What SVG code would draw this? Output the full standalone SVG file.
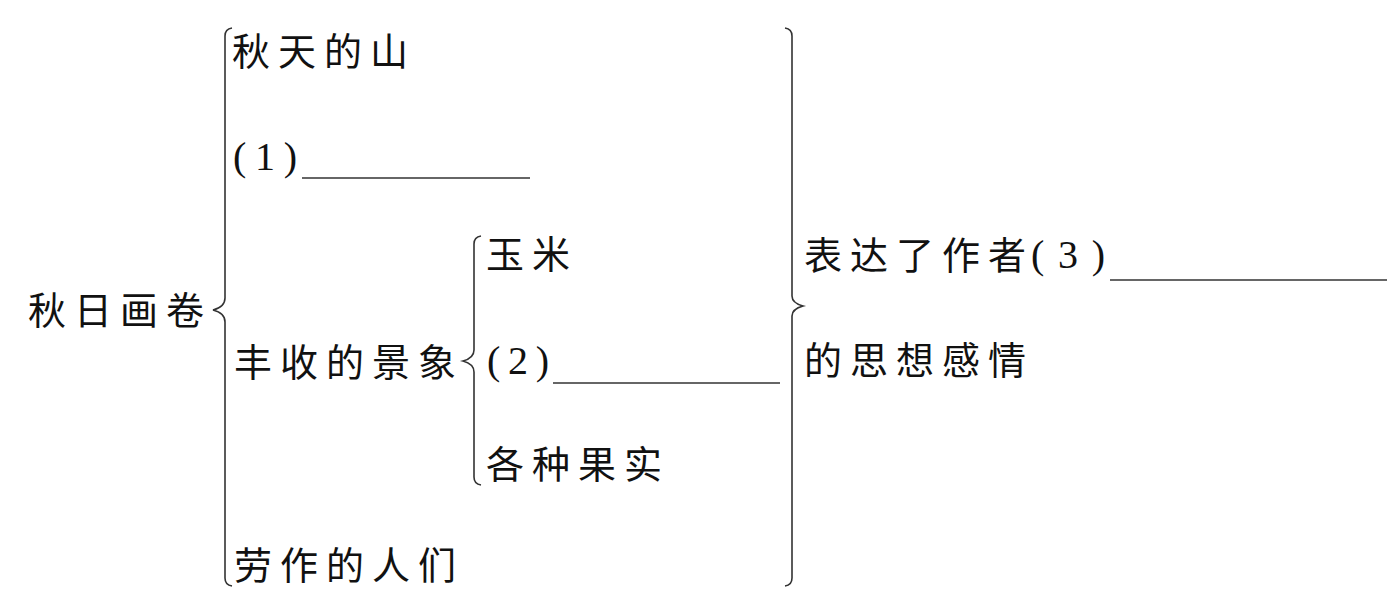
<svg xmlns="http://www.w3.org/2000/svg" width="1393" height="607" viewBox="0 0 1393 607">
<style>
.t{font-family:"Noto Sans CJK SC","Noto Sans CJK JP",sans-serif;font-size:38px;fill:#111;letter-spacing:8px}
.n{font-family:"Liberation Serif",serif;font-size:40px;fill:#111}
.b{fill:none;stroke:#333;stroke-width:1.6}
.u{stroke:#333;stroke-width:1.5}
</style>
<rect width="1393" height="607" fill="#fff"/>
<g id="connectors">
<path class="b" d="M232,28 Q225,29 225,36 L225,298 Q225,307 213,310 Q225,313 225,322 L225,578 Q225,585 232,586"/>
<path class="b" d="M481,236 Q474,237 474,244 L474,350 Q474,358 463,361 Q474,364 474,372 L474,477 Q474,484 481,485"/>
<path class="b" d="M785,28 Q792,29 792,36 L792,296 Q792,303 803,306 Q792,309 792,316 L792,578 Q792,585 785,586"/>
</g>
<g id="root"><text class="t" x="28" y="324">秋日画卷</text></g>
<g id="n1"><text class="t" x="232" y="65">秋天的山</text></g>
<g id="n2"><text class="n" x="233" y="170" textLength="64" lengthAdjust="spacing">(1)</text><line class="u" x1="302" y1="178" x2="530" y2="178"/></g>
<g id="n3"><text class="t" x="234" y="376">丰收的景象</text></g>
<g id="n3a"><text class="t" x="486" y="268">玉米</text></g>
<g id="n3b"><text class="n" x="487" y="374" textLength="62" lengthAdjust="spacing">(2)</text><line class="u" x1="553" y1="383" x2="780" y2="383"/></g>
<g id="n3c"><text class="t" x="486" y="478">各种果实</text></g>
<g id="n4"><text class="t" x="234" y="579">劳作的人们</text></g>
<g id="res"><text class="t" x="804" y="269">表达了作者</text><text class="n" x="1031" y="268" textLength="74" lengthAdjust="spacing">(3)</text><line class="u" x1="1110" y1="280" x2="1387" y2="280"/><text class="t" x="804" y="374">的思想感情</text></g>
</svg>
